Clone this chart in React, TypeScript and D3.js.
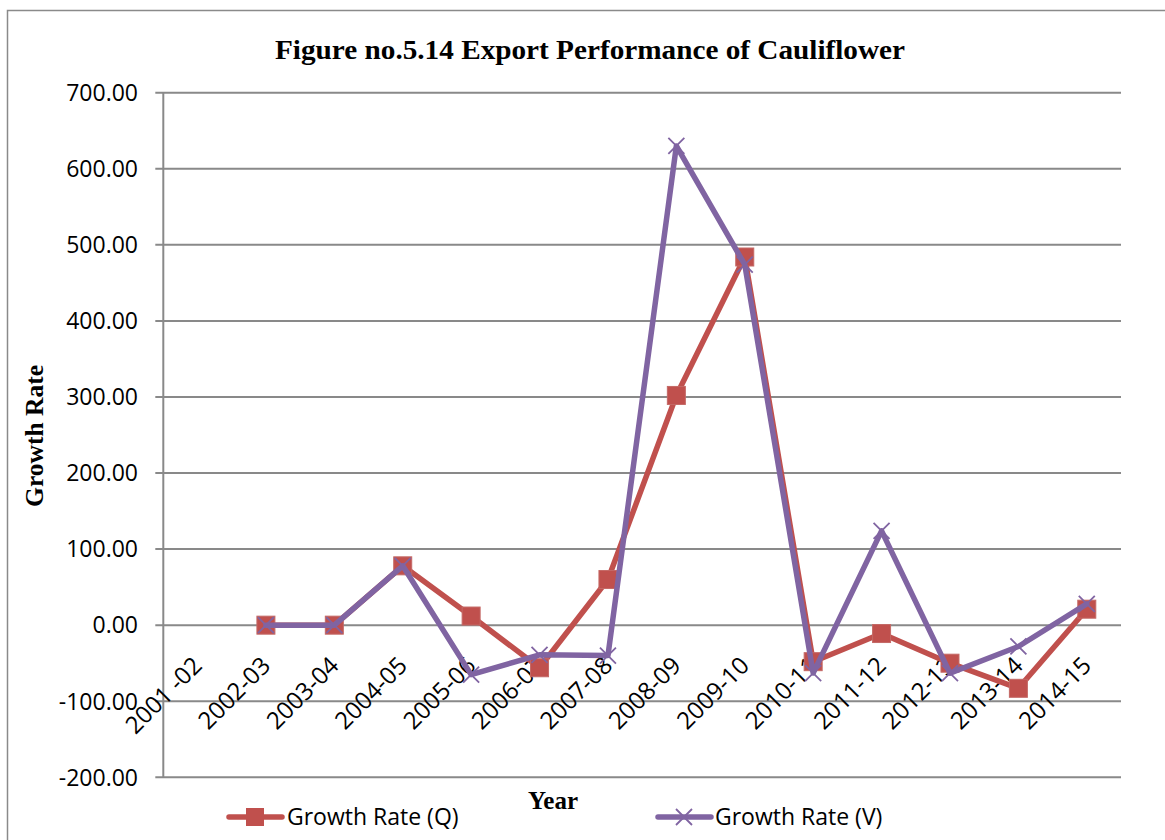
import React from "react";
import * as d3 from "d3";

const years = [
  "2001 -02", "2002-03", "2003-04", "2004-05", "2005-06", "2006-07", "2007-08",
  "2008-09", "2009-10", "2010-11", "2011-12", "2012-13", "2013-14", "2014-15",
];
const growthQ: (number | null)[] = [null, 0, 0, 78, 12, -56, 60, 302, 484, -48, -11, -50, -83, 21];
const growthV: (number | null)[] = [null, 0, 0, 78, -65, -39, -40, 630, 474, -63, 124, -63, -28, 28];
const yTicks = [-200, -100, 0, 100, 200, 300, 400, 500, 600, 700];

const W = 1165;
const H = 840;
const plot = { left: 163.3, right: 1121, top: 92.7, bottom: 777.3 };

const RED = "#C0504D";
const PURPLE = "#8064A2";
const GRID = "#898989";
const SANS = "'Open Sans', 'Liberation Sans', sans-serif";
const SERIF = "'Liberation Serif', 'Times New Roman', serif";

// two decimals, with a plain hyphen for negatives
const fmt = (v: number) => d3.format(".2f")(v).replace("\u2212", "-");

export default function App() {
  const x = d3.scaleBand<string>().domain(years).range([plot.left, plot.right]).padding(0);
  const y = d3.scaleLinear().domain([-200, 700]).range([plot.bottom, plot.top]);
  const cx = (c: string) => (x(c) as number) + x.bandwidth() / 2;

  const line = d3
    .line<[string, number | null]>()
    .defined((d) => d[1] !== null)
    .x((d) => cx(d[0]))
    .y((d) => y(d[1] as number));

  const qPts = years.map((c, i) => [c, growthQ[i]] as [string, number | null]);
  const vPts = years.map((c, i) => [c, growthV[i]] as [string, number | null]);

  const sq = 18;
  const xm = 8;

  return (
    <svg
      width={W}
      height={H}
      style={{ position: "absolute", left: 0, top: 0, background: "#fff" }}
    >
      {/* chart frame */}
      <rect x={7.5} y={10.5} width={W + 20} height={H + 20} fill="#fff" stroke="#8a8a8a" strokeWidth={1.5} />

      <text
        x={590}
        y={59}
        textAnchor="middle"
        fontFamily={SERIF}
        fontWeight="bold"
        fontSize={28}
        textLength={630}
        lengthAdjust="spacingAndGlyphs"
      >
        Figure no.5.14 Export Performance of Cauliflower
      </text>

      {/* gridlines and y ticks */}
      {yTicks.map((t) => (
        <g key={t}>
          <line x1={plot.left - 8} x2={plot.right} y1={y(t)} y2={y(t)} stroke={GRID} strokeWidth={2} />
          <text
            x={138}
            y={y(t)}
            dy="0.36em"
            textAnchor="end"
            fontFamily={SANS}
            fontSize={23}
            fill="#000"
          >
            {fmt(t)}
          </text>
        </g>
      ))}
      <line x1={plot.left} x2={plot.left} y1={plot.top} y2={plot.bottom} stroke={GRID} strokeWidth={2} />

      {/* category labels */}
      {years.map((c) => (
        <text
          key={c}
          transform={`translate(${cx(c) + 6},${y(0) + 42}) rotate(-45)`}
          textAnchor="end"
          fontFamily={SANS}
          fontSize={24}
          fill="#000"
        >
          {c}
        </text>
      ))}

      {/* Growth Rate (Q) */}
      <path d={line(qPts) || ""} fill="none" stroke={RED} strokeWidth={5.5} strokeLinejoin="round" strokeLinecap="round" />
      {qPts
        .filter((d) => d[1] !== null)
        .map((d) => (
          <rect
            key={d[0]}
            x={cx(d[0]) - sq / 2}
            y={y(d[1] as number) - sq / 2}
            width={sq}
            height={sq}
            fill={RED}
            stroke="#c46966"
            strokeWidth={1}
          />
        ))}

      {/* Growth Rate (V) */}
      <path d={line(vPts) || ""} fill="none" stroke={PURPLE} strokeWidth={5.5} strokeLinejoin="round" strokeLinecap="round" />
      {vPts
        .filter((d) => d[1] !== null)
        .map((d) => {
          const px = cx(d[0]);
          const py = y(d[1] as number);
          return (
            <path
              key={d[0]}
              d={`M${px - xm},${py - xm}L${px + xm},${py + xm}M${px - xm},${py + xm}L${px + xm},${py - xm}`}
              stroke={PURPLE}
              strokeWidth={1.8}
            />
          );
        })}

      {/* axis titles */}
      <text
        transform={`translate(43,436) rotate(-90)`}
        textAnchor="middle"
        fontFamily={SERIF}
        fontWeight="bold"
        fontSize={25.5}
      >
        Growth Rate
      </text>
      <text x={553} y={809} textAnchor="middle" fontFamily={SERIF} fontWeight="bold" fontSize={25}>
        Year
      </text>

      {/* legend */}
      <line x1={229} x2={282} y1={817} y2={817} stroke={RED} strokeWidth={5.5} strokeLinecap="round" />
      <rect x={255 - sq / 2} y={817 - sq / 2} width={sq} height={sq} fill={RED} />
      <text x={287} y={817} dy="0.36em" fontFamily={SANS} fontSize={23}>
        Growth Rate (Q)
      </text>
      <line x1={658} x2={711} y1={817} y2={817} stroke={PURPLE} strokeWidth={5.5} strokeLinecap="round" />
      <path
        d={`M${684 - xm},${817 - xm}L${684 + xm},${817 + xm}M${684 - xm},${817 + xm}L${684 + xm},${817 - xm}`}
        stroke={PURPLE}
        strokeWidth={1.8}
      />
      <text x={715} y={817} dy="0.36em" fontFamily={SANS} fontSize={23}>
        Growth Rate (V)
      </text>
    </svg>
  );
}
